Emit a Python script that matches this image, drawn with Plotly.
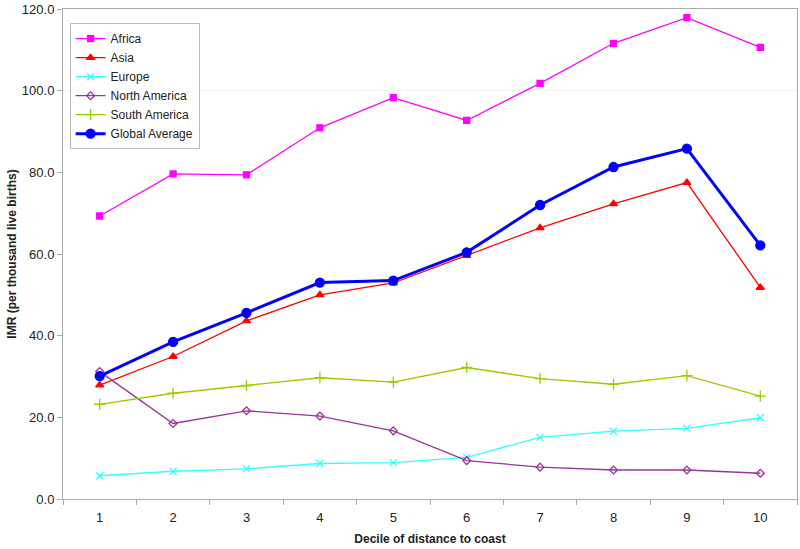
import plotly.graph_objects as go

deciles = ["1", "2", "3", "4", "5", "6", "7", "8", "9", "10"]
africa = [69.3, 79.6, 79.4, 90.9, 98.3, 92.7, 101.8, 111.6, 117.9, 110.6]
asia = [27.9, 34.9, 43.6, 50.0, 52.9, 59.6, 66.4, 72.3, 77.5, 51.8]
europe = [5.7, 6.8, 7.4, 8.7, 8.9, 10.2, 15.1, 16.6, 17.3, 19.9]
north_america = [31.2, 18.5, 21.6, 20.3, 16.7, 9.4, 7.8, 7.1, 7.1, 6.3]
south_america = [23.2, 25.9, 27.8, 29.7, 28.6, 32.2, 29.5, 28.1, 30.2, 25.2]
global_avg = [30.1, 38.5, 45.6, 53.0, 53.5, 60.4, 72.0, 81.3, 85.8, 62.1]
y_ticks = [0, 20, 40, 60, 80, 100, 120]

series = [
    ("Africa", africa, "#ff00ff", "square", 6, 1.3),
    ("Asia", asia, "#ff0000", "triangle-up", 7, 1.3),
    ("Europe", europe, "#33ffff", "x-thin", 7, 1.3),
    ("North America", north_america, "#993399", "diamond-open", 6, 1.3),
    ("South America", south_america, "#99cc00", "cross-thin", 8, 1.3),
    ("Global Average", global_avg, "#0000ff", "circle", 9, 3),
]

fig = go.Figure()
for name, vals, color, sym, size, lw in series:
    fig.add_trace(go.Scatter(
        x=deciles, y=vals, name=name, mode="lines+markers",
        line=dict(color=color, width=lw),
        marker=dict(symbol=sym, size=size, color=color,
                    line=dict(color=color, width=1.3)),
    ))

fig.add_shape(type="line", xref="paper", yref="y", x0=0, x1=1, y0=100, y1=100,
              line=dict(color="#eeeeee", width=1), layer="below")

fig.update_layout(
    width=800, height=549,
    margin=dict(l=63, r=3, t=9, b=50),
    paper_bgcolor="white", plot_bgcolor="white",
    font=dict(family="Liberation Sans, Arial, sans-serif", size=13, color="#222222"),
    showlegend=True,
    legend=dict(x=0.009, y=0.971, xanchor="left", yanchor="top",
                bgcolor="white", bordercolor="#bbbbbb", borderwidth=1,
                font=dict(size=12, color="#222222"), tracegroupgap=0,
                itemwidth=30),
    xaxis=dict(
        type="category", range=[-0.5, 9.5], tickson="boundaries",
        ticks="outside", ticklen=5, ticklabelstandoff=6,
        tickcolor="#aaaaaa", showgrid=False, showline=True, linecolor="#aaaaaa",
        mirror=True, zeroline=False, automargin=False,
        tickfont=dict(size=13),
        title=dict(text="<b>Decile of distance to coast</b>", standoff=11,
                   font=dict(size=12)),
    ),
    yaxis=dict(
        range=[0, 120], tickvals=y_ticks, tickformat=".1f", ticks="outside",
        ticklen=5, tickcolor="#aaaaaa", showgrid=False, showline=True,
        linecolor="#aaaaaa", mirror=True, zeroline=False, automargin=False,
        tickfont=dict(size=13),
        title=dict(text="<b>IMR (per thousand live births)</b>", standoff=2,
                   font=dict(size=12)),
    ),
)

fig.write_html(
    "out.html",
    config={"displayModeBar": False},
    post_script="document.body.style.margin='0';document.body.style.padding='0';"
                "document.body.style.overflow='hidden';",
)
